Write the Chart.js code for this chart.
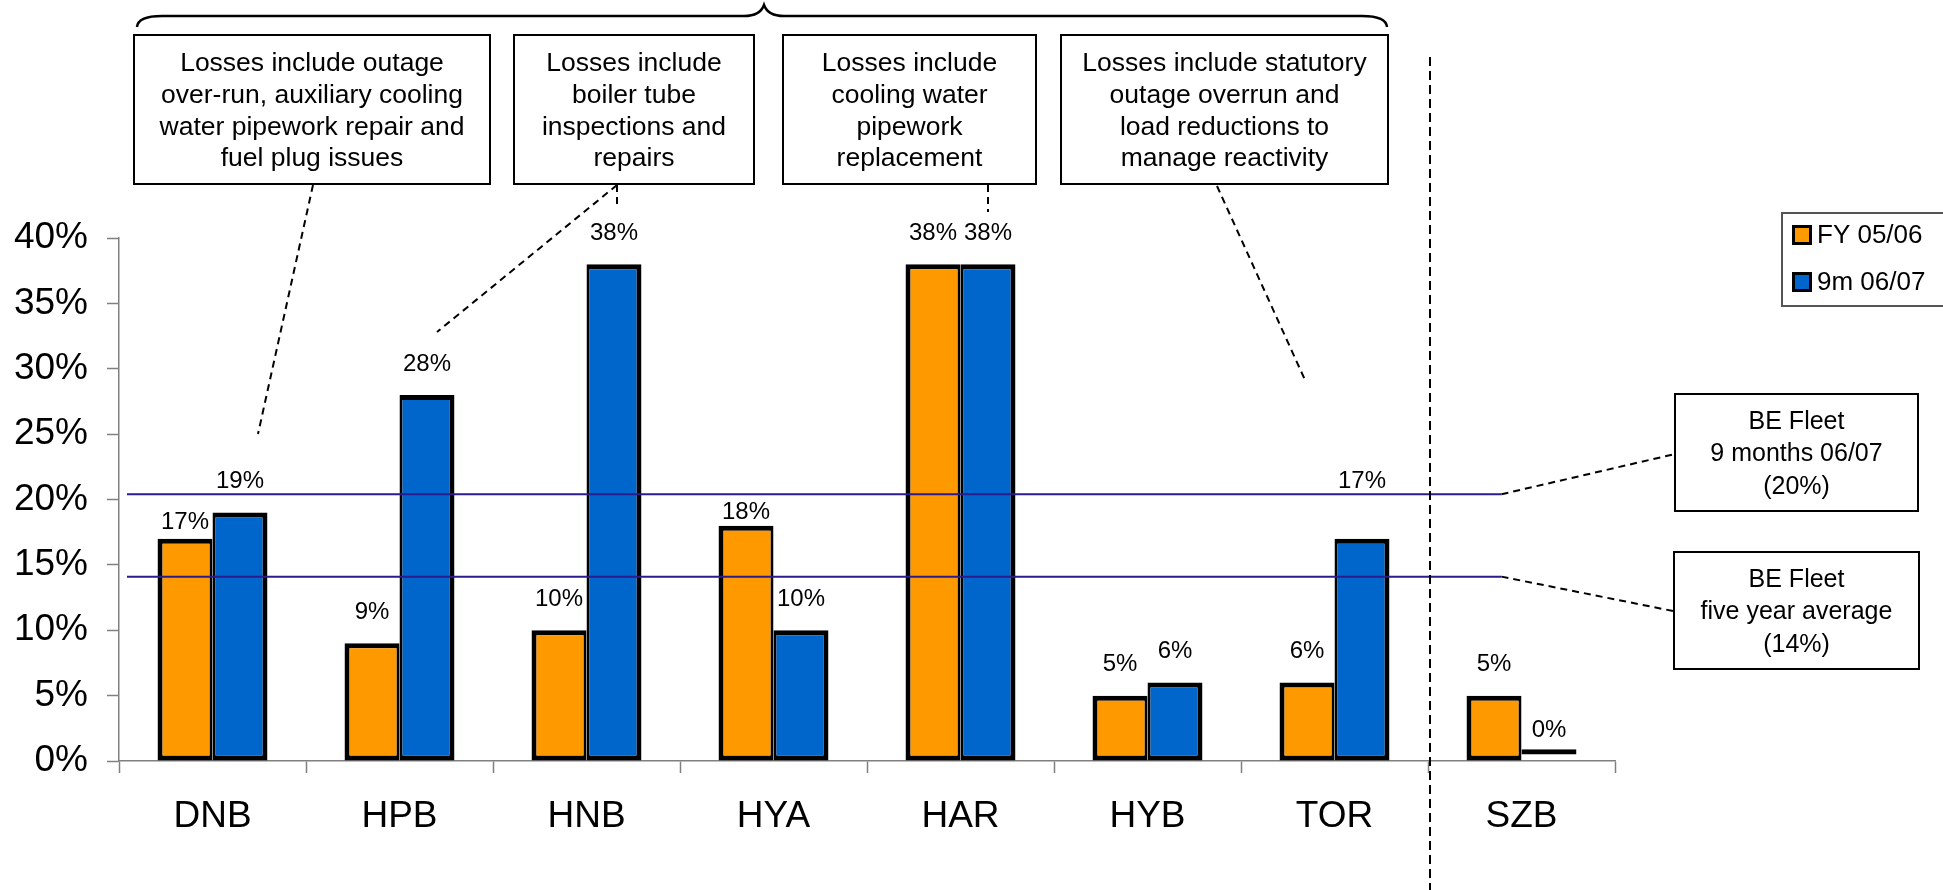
<!DOCTYPE html>
<html>
<head>
<meta charset="utf-8">
<script src="https://cdn.jsdelivr.net/npm/chart.js@4.4.1/dist/chart.umd.min.js"></script>
<style>
  html, body { margin: 0; padding: 0; background: #fff; }
  canvas { display: block; }
</style>
</head>
<body>
<canvas id="lossChart" width="1943" height="890"></canvas>
<script>
// station categories and loss percentages
const stations = ["DNB", "HPB", "HNB", "HYA", "HAR", "HYB", "TOR", "SZB"];
const fy0506 = [17, 9, 10, 18, 38, 5, 6, 5];
const nine0607 = [19, 28, 38, 10, 38, 6, 17, 0.9];
const seriesNames = ["FY 05/06", "9m 06/07"];
const yMax = 40;
const yStep = 5;

// fleet reference levels
const fleetLevels = [20.4, 14.1];
const fleetNotes = [
  ["BE Fleet", "9 months 06/07", "(20%)"],
  ["BE Fleet", "five year average", "(14%)"]
];

// notes above the stations
const stationNotes = [
  ["Losses include outage", "over-run, auxiliary cooling", "water pipework repair and", "fuel plug issues"],
  ["Losses include", "boiler tube", "inspections and", "repairs"],
  ["Losses include", "cooling water", "pipework", "replacement"],
  ["Losses include statutory", "outage overrun and", "load reductions to", "manage reactivity"]
];

const FONT = '"Liberation Sans", Arial, Helvetica, sans-serif';
const ORANGE = "#FF9900";
const BLUE = "#0066CC";
const LINE_BLUE = "#2B1B8C";

Chart.defaults.font.family = FONT;
Chart.defaults.color = "#000";

// label lift above bar top (px); a few were moved by hand in the original
const labelLift = { "0-0": 16, "0-3": 13, "1-6": 57, "1-7": 19 };

const dashed = (ctx, pts, dash, width) => {
  ctx.save();
  ctx.setLineDash(dash || [7, 5]);
  ctx.lineWidth = width || 2;
  ctx.strokeStyle = "#000";
  ctx.beginPath();
  ctx.moveTo(pts[0][0], pts[0][1]);
  for (let i = 1; i < pts.length; i++) ctx.lineTo(pts[i][0], pts[i][1]);
  ctx.stroke();
  ctx.restore();
};

const textBox = (ctx, x0, y0, x1, y1, lines, size, firstY, gap) => {
  ctx.save();
  ctx.fillStyle = "#fff";
  ctx.fillRect(x0, y0, x1 - x0, y1 - y0);
  ctx.lineWidth = 2;
  ctx.strokeStyle = "#000";
  ctx.strokeRect(x0, y0, x1 - x0, y1 - y0);
  ctx.fillStyle = "#000";
  ctx.font = `${size}px ${FONT}`;
  ctx.textAlign = "center";
  ctx.textBaseline = "middle";
  lines.forEach((t, i) => ctx.fillText(t, (x0 + x1) / 2, firstY + i * gap));
  ctx.restore();
};

const annotations = {
  id: "annotations",
  afterDatasetsDraw(chart) {
    const ctx = chart.ctx;
    const y = chart.scales.y;
    const x = chart.scales.x;

    // fleet lines
    const lineStart = chart.chartArea.left + 8;
    const lineEnd = x.getPixelForValue(7) - 20;
    const fleetY = fleetLevels.map((v) => y.getPixelForValue(v));
    ctx.save();
    ctx.strokeStyle = LINE_BLUE;
    ctx.lineWidth = 2;
    fleetY.forEach((py) => {
      ctx.beginPath();
      ctx.moveTo(lineStart, py);
      ctx.lineTo(lineEnd, py);
      ctx.stroke();
    });
    ctx.restore();

    // value labels
    ctx.save();
    ctx.font = `24px ${FONT}`;
    ctx.fillStyle = "#000";
    ctx.textAlign = "center";
    ctx.textBaseline = "middle";
    chart.data.datasets.forEach((ds, di) => {
      const meta = chart.getDatasetMeta(di);
      meta.data.forEach((bar, i) => {
        const lift = labelLift[`${di}-${i}`] || 31;
        ctx.fillText(`${Math.floor(ds.data[i])}%`, bar.x, bar.y - lift);
      });
    });
    ctx.restore();

    // separator before SZB
    dashed(ctx, [[1430, 57], [1430, 890]], [9, 5], 2);

    // bracket over the notes
    ctx.save();
    ctx.strokeStyle = "#000";
    ctx.lineWidth = 2.5;
    ctx.beginPath();
    ctx.moveTo(137, 27);
    ctx.quadraticCurveTo(138, 16, 162, 16);
    ctx.lineTo(744, 16);
    ctx.quadraticCurveTo(760, 16, 764, 5);
    ctx.quadraticCurveTo(768, 16, 784, 16);
    ctx.lineTo(1362, 16);
    ctx.quadraticCurveTo(1386, 16, 1387, 27);
    ctx.stroke();
    ctx.restore();

    // station notes
    const boxes = [[134, 490], [514, 754], [783, 1036], [1061, 1388]];
    boxes.forEach((b, i) => textBox(ctx, b[0], 35, b[1], 184, stationNotes[i], 26.5, 64, 31.7));

    dashed(ctx, [[313, 185], [258, 434]]);
    dashed(ctx, [[617, 185], [437, 332]]);
    dashed(ctx, [[617, 185], [617, 204]]);
    dashed(ctx, [[988, 185], [988, 212]]);
    dashed(ctx, [[1217, 186], [1305, 380]]);

    // fleet notes
    dashed(ctx, [[lineEnd, fleetY[0]], [1675, 454]]);
    dashed(ctx, [[lineEnd, fleetY[1]], [1673, 611]]);
    textBox(ctx, 1675, 394, 1918, 511, fleetNotes[0], 25, 422, 32.5);
    textBox(ctx, 1674, 552, 1919, 669, fleetNotes[1], 25, 580, 32.5);

    // legend
    ctx.save();
    ctx.strokeStyle = "#555";
    ctx.lineWidth = 2;
    ctx.strokeRect(1782, 213, 170, 93);
    ctx.font = `26px ${FONT}`;
    ctx.textBaseline = "middle";
    ctx.textAlign = "left";
    chart.data.datasets.forEach((ds, di) => {
      const cy = 235 + di * 47;
      ctx.fillStyle = "#000";
      ctx.fillRect(1792, cy - 10, 20, 20);
      ctx.fillStyle = ds.legendColor;
      ctx.fillRect(1795, cy - 7, 14, 14);
      ctx.fillStyle = "#000";
      ctx.fillText(ds.label, 1817, cy + 1);
    });
    ctx.restore();
  }
};

const tinyBar = (ctx) => ctx.raw < 1;

new Chart(document.getElementById("lossChart"), {
  type: "bar",
  data: {
    labels: stations,
    datasets: [
      {
        label: seriesNames[0],
        data: fy0506,
        legendColor: ORANGE,
        backgroundColor: ORANGE,
        borderColor: "#000",
        borderWidth: { top: 5, left: 5, right: 3, bottom: 5 },
        borderSkipped: false
      },
      {
        label: seriesNames[1],
        data: nine0607,
        legendColor: BLUE,
        backgroundColor: (ctx) => (tinyBar(ctx) ? "rgba(0,0,0,0)" : BLUE),
        borderColor: "#000",
        borderWidth: (ctx) =>
          tinyBar(ctx) ? { top: 5, left: 0, right: 0, bottom: 0 } : { top: 5, left: 3, right: 5, bottom: 5 },
        borderSkipped: false
      }
    ]
  },
  options: {
    responsive: false,
    animation: false,
    layout: { padding: { left: 0, right: 328, top: 238, bottom: 0 } },
    datasets: {
      bar: { categoryPercentage: 0.588, barPercentage: 1.0 }
    },
    plugins: {
      legend: { display: false },
      tooltip: { enabled: false }
    },
    scales: {
      x: {
        offset: true,
        grid: {
          offset: true,
          drawOnChartArea: false,
          drawTicks: true,
          tickLength: 12,
          tickColor: "#808080",
          tickWidth: 1.5
        },
        border: { display: true, color: "#808080", width: 1.5 },
        ticks: { color: "#000", font: { size: 37 }, padding: 22 },
        afterFit: (scale) => { scale.height = 129; }
      },
      y: {
        min: 0,
        max: yMax,
        grid: {
          drawOnChartArea: false,
          drawTicks: true,
          tickLength: 12,
          tickColor: "#808080",
          tickWidth: 1.5
        },
        border: { display: true, color: "#808080", width: 1.5 },
        ticks: {
          stepSize: yStep,
          color: "#000",
          font: { size: 37 },
          padding: 19,
          callback: (v) => `${v}%`
        },
        afterFit: (scale) => { scale.width = 119; }
      }
    }
  },
  plugins: [annotations]
});
</script>
</body>
</html>
